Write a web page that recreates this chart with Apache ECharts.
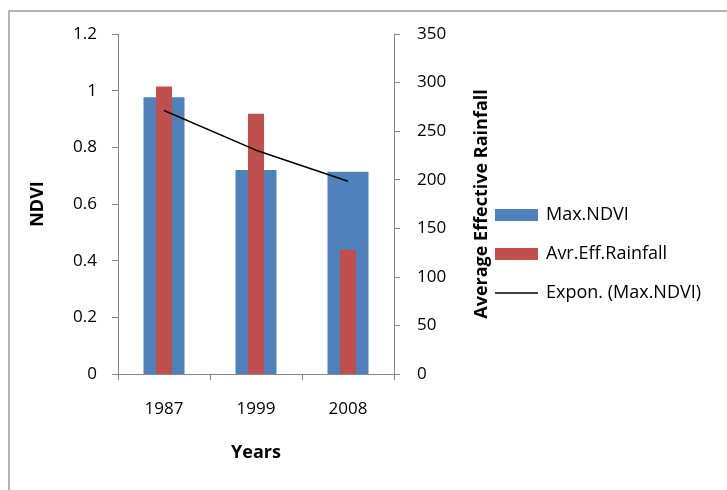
<!DOCTYPE html>
<html>
<head>
<meta charset="utf-8">
<script src="https://cdn.jsdelivr.net/npm/echarts@6/dist/echarts.min.js"></script>
<style>
  html, body { margin: 0; padding: 0; background: #fff; }
  #chart { width: 727px; height: 490px; }
</style>
</head>
<body>
<div id="chart"></div>
<script>
// Years on the category axis
const years = ['1987', '1999', '2008'];
// Maximum NDVI per year (left axis)
const maxNdvi = [0.977, 0.72, 0.714];
// Average effective rainfall per year (right axis)
const avrEffRainfall = [296, 268, 128];
// Exponential trend of Max.NDVI at each year
const ndviTrend = [0.93, 0.79, 0.68];

const FONT = '"Open Sans", Lato, sans-serif';
const FS = 17;
const TITLE_FS = 18;
const AXIS_GRAY = '#868686';
const BLUE = '#4F81BD';
const RED = '#C0504D';

const chart = echarts.init(document.getElementById('chart'), null, { renderer: 'canvas' });

const valueAxisBase = {
  type: 'value',
  min: 0,
  nameLocation: 'middle',
  nameTextStyle: { fontFamily: FONT, fontSize: TITLE_FS, fontWeight: 'bold', color: '#000' },
  axisLine: { show: true, lineStyle: { color: AXIS_GRAY, width: 1 } },
  axisTick: { show: true, inside: false, length: 6, lineStyle: { color: AXIS_GRAY } },
  splitLine: { show: false },
  axisLabel: { fontFamily: FONT, fontSize: FS, color: '#000' }
};

chart.setOption({
  animation: false,
  backgroundColor: '#fff',
  textStyle: { fontFamily: FONT },
  grid: { left: 118, right: 333, top: 34, bottom: 116, containLabel: false },
  graphic: [{
    type: 'rect',
    shape: { x: 9, y: 11, width: 900, height: 700 },
    style: { fill: 'none', stroke: '#9b9b9b', lineWidth: 1.5 },
    silent: true,
    z: -10
  }],
  legend: {
    orient: 'vertical',
    left: 490,
    top: 201,
    itemWidth: 43,
    itemHeight: 12,
    itemGap: 21,
    symbolKeepAspect: true,
    textStyle: { fontFamily: FONT, fontSize: 18, color: '#000', padding: [0, 0, 0, 3] },
    data: [
      { name: 'Max.NDVI', icon: 'rect' },
      { name: 'Avr.Eff.Rainfall', icon: 'rect' },
      { name: 'Expon. (Max.NDVI)', icon: 'path://M0,0H86V3H0Z', itemStyle: { color: '#000' } }
    ]
  },
  xAxis: [{
    type: 'category',
    data: years,
    name: 'Years',
    nameLocation: 'middle',
    nameGap: 70,
    nameTextStyle: { fontFamily: FONT, fontSize: TITLE_FS, fontWeight: 'bold', color: '#000' },
    axisLine: { lineStyle: { color: AXIS_GRAY } },
    axisTick: { show: true, length: 6, lineStyle: { color: AXIS_GRAY } },
    axisLabel: { fontFamily: FONT, fontSize: FS, color: '#000', margin: 27 }
  }, {
    type: 'category',
    data: years,
    show: false
  }],
  yAxis: [
    Object.assign({}, valueAxisBase, {
      position: 'left',
      max: 1.2,
      interval: 0.2,
      name: 'NDVI',
      nameGap: 71,
      axisLabel: Object.assign({}, valueAxisBase.axisLabel, { margin: 21 })
    }),
    Object.assign({}, valueAxisBase, {
      position: 'right',
      max: 350,
      interval: 50,
      name: 'Average Effective Rainfall',
      nameGap: 79,
      nameRotate: 90,
      axisLabel: Object.assign({}, valueAxisBase.axisLabel, { margin: 23 })
    })
  ],
  series: [
    {
      name: 'Max.NDVI',
      type: 'bar',
      xAxisIndex: 0,
      yAxisIndex: 0,
      barWidth: 41,
      itemStyle: { color: BLUE },
      data: maxNdvi,
      z: 2
    },
    {
      name: 'Avr.Eff.Rainfall',
      type: 'bar',
      xAxisIndex: 1,
      yAxisIndex: 1,
      barWidth: 16,
      itemStyle: { color: RED },
      data: avrEffRainfall,
      z: 3
    },
    {
      name: 'Expon. (Max.NDVI)',
      type: 'line',
      xAxisIndex: 0,
      yAxisIndex: 0,
      symbol: 'none',
      smooth: false,
      lineStyle: { color: '#000', width: 1.5 },
      itemStyle: { color: '#000' },
      data: ndviTrend,
      z: 4
    }
  ]
});
</script>
</body>
</html>
